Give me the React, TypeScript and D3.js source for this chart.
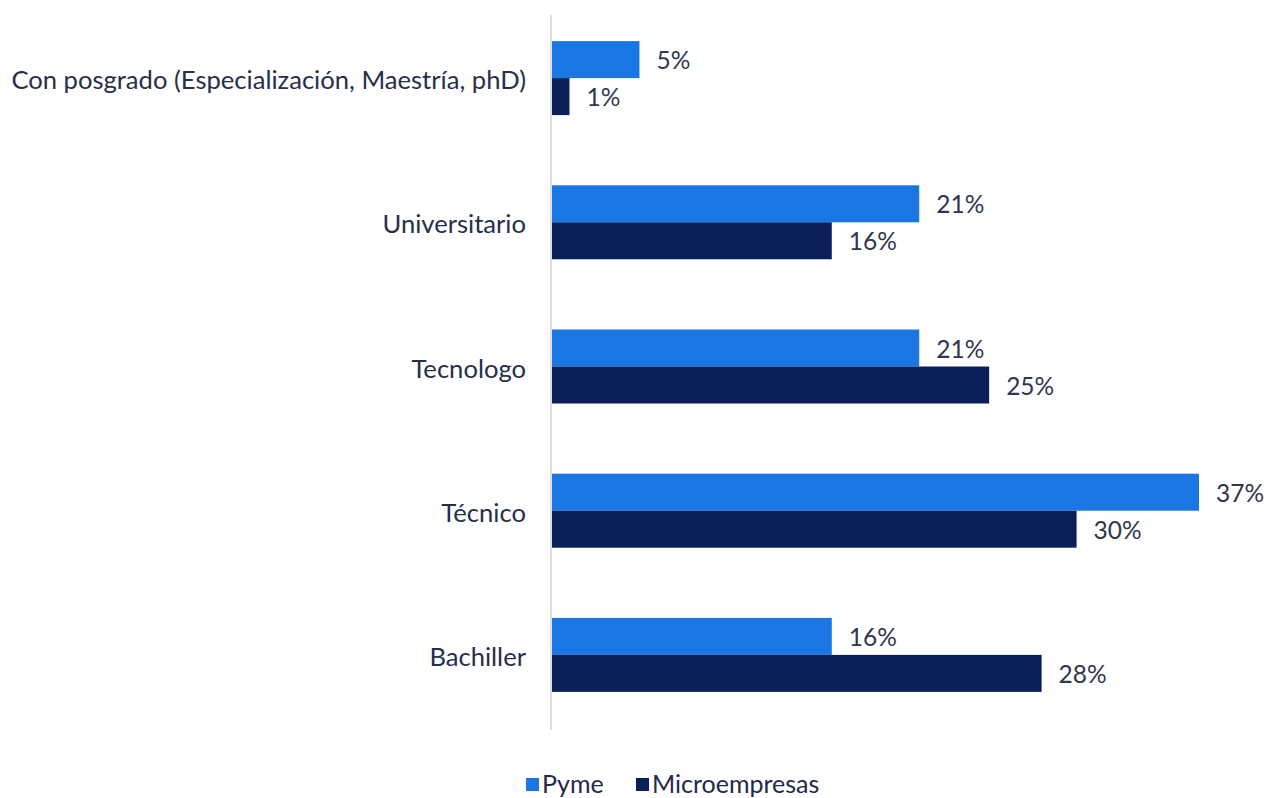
import React from "react";
import { scaleBand, scaleLinear } from "d3";

const categories = [
  "Con posgrado (Especialización, Maestría, phD)",
  "Universitario",
  "Tecnologo",
  "Técnico",
  "Bachiller",
];
const pyme = [5, 21, 21, 37, 16];
const micro = [1, 16, 25, 30, 28];
const seriesNames = ["Pyme", "Microempresas"];
const colors: any = { Pyme: "#1976e3", Microempresas: "#0b2058" };

const W = 1268;
const H = 798;
const axisX = 552;
const font = "Lato, 'Open Sans', sans-serif";

export default function App() {
  const x = scaleLinear().domain([0, 37]).range([axisX, 1199]);
  const y0 = scaleBand().domain(categories).range([6, 727]);
  const groupH = 74;
  const y1 = scaleBand().domain(seriesNames).range([0, groupH]);
  const values: any = { Pyme: pyme, Microempresas: micro };

  return (
    <svg
      width={W}
      height={H}
      style={{ position: "absolute", left: 0, top: 0, background: "#fff" }}
    >
      <line x1={axisX - 1} x2={axisX - 1} y1={15} y2={730} stroke="#d4d4d4" strokeWidth={1.5} />
      {categories.map((c, i) => {
        const top = (y0(c) as number) + (y0.bandwidth() - groupH) / 2;
        return (
          <g key={c}>
            <text
              x={526}
              y={(y0(c) as number) + y0.bandwidth() / 2 + 1}
              textAnchor="end"
              dominantBaseline="central"
              fontFamily={font}
              fontSize={25.6}
              fill="#262f4a"
            >
              {c}
            </text>
            {seriesNames.map((s) => {
              const v = values[s][i];
              const yy = top + (y1(s) as number);
              return (
                <g key={s}>
                  <rect
                    x={x(0)}
                    y={yy}
                    width={x(v) - x(0)}
                    height={y1.bandwidth()}
                    fill={colors[s]}
                  />
                  <text
                    x={x(v) + 17}
                    y={yy + y1.bandwidth() / 2}
                    dominantBaseline="central"
                    fontFamily={font}
                    fontSize={24.5}
                    fill="#2f3650"
                  >
                    {v}%
                  </text>
                </g>
              );
            })}
          </g>
        );
      })}
      {seriesNames.map((s, i) => {
        const lx = i === 0 ? 526 : 636;
        return (
          <g key={s}>
            <rect x={lx} y={778} width={13} height={13} fill={colors[s]} />
            <text
              x={lx + 16}
              y={783}
              dominantBaseline="central"
              fontFamily={font}
              fontSize={25}
              fill="#1f2a4a"
            >
              {s}
            </text>
          </g>
        );
      })}
    </svg>
  );
}
